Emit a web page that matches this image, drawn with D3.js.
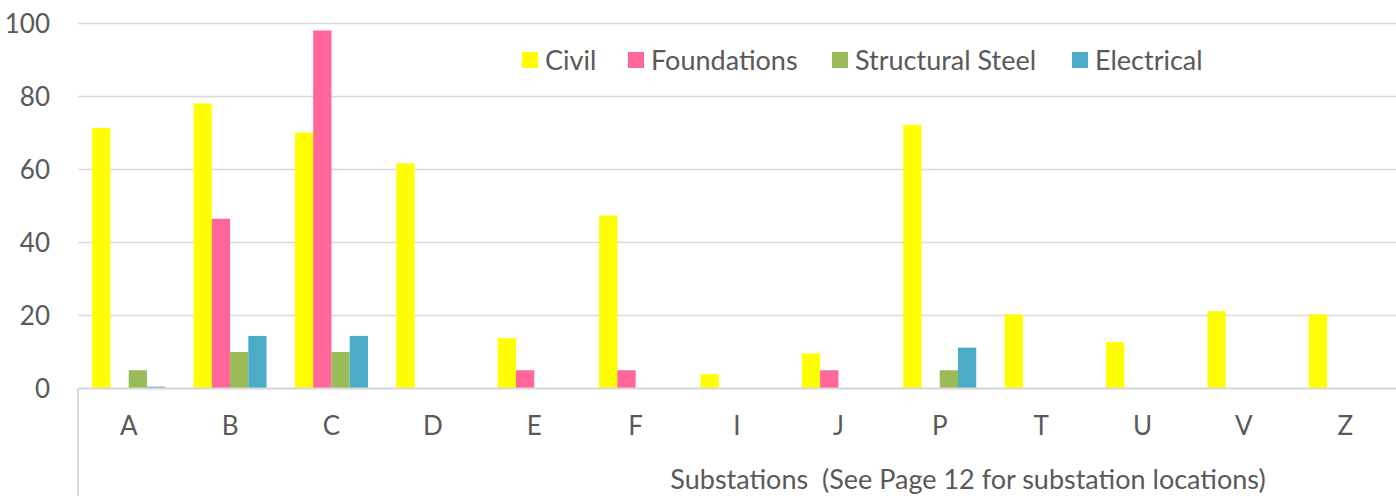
<!DOCTYPE html>
<html>
<head>
<meta charset="utf-8">
<script src="https://cdn.jsdelivr.net/npm/d3@7"></script>
<style>
  body { margin: 0; background: #fff; }
  svg { display: block; font-family: Lato, "Open Sans", sans-serif; }
</style>
</head>
<body>
<svg id="chart" width="1396" height="496"></svg>
<script>
// data
var categories = ["A", "B", "C", "D", "E", "F", "I", "J", "P", "T", "U", "V", "Z"];
var seriesNames = ["Civil", "Foundations", "Structural Steel", "Electrical"];
var civil = [71.4, 78.1, 70.1, 61.7, 13.8, 47.4, 3.9, 9.6, 72.2, 20.3, 12.7, 21.2, 20.3];
var foundations = [0, 46.5, 98.1, 0, 5, 5, 0, 5, 0, 0, 0, 0, 0];
var structuralSteel = [5, 10, 10, 0, 0, 0, 0, 0, 5, 0, 0, 0, 0];
var electrical = [0.5, 14.4, 14.4, 0, 0, 0, 0, 0, 11.2, 0, 0, 0, 0];
var yTicks = [0, 20, 40, 60, 80, 100];
var colors = ["#ffff00", "#ff6699", "#9bbb59", "#4bacc6"];

var allSeries = [civil, foundations, structuralSteel, electrical];

var svg = d3.select("#chart");
var plotLeft = 78, plotRight = 1396, plotTop = 23.5, plotBottom = 388.5;
var textColor = "#595959";
var gridColor = "#d9d9d9";

var y = d3.scaleLinear().domain([0, 100]).range([plotBottom, plotTop]);

var x0 = d3.scaleBand()
  .domain(categories)
  .range([plotLeft, plotRight])
  .paddingInner(0.28)
  .paddingOuter(0.14);

var x1 = d3.scaleBand()
  .domain(seriesNames)
  .range([0, x0.bandwidth()]);

// gridlines
svg.append("g")
  .selectAll("line")
  .data(yTicks)
  .join("line")
  .attr("x1", plotLeft)
  .attr("x2", plotRight)
  .attr("y1", d => y(d))
  .attr("y2", d => y(d))
  .attr("stroke", gridColor)
  .attr("stroke-width", 1.5);

// y tick labels
svg.append("g")
  .selectAll("text")
  .data(yTicks)
  .join("text")
  .attr("x", 50)
  .attr("y", d => y(d))
  .attr("dy", "0.36em")
  .attr("text-anchor", "end")
  .attr("fill", textColor)
  .style("font-size", "26px")
  .text(d => d);

// bars
var rows = categories.map(function (c, i) {
  return { cat: c, values: allSeries.map((s, j) => ({ name: seriesNames[j], value: s[i], color: colors[j] })) };
});

svg.append("g")
  .selectAll("g")
  .data(rows)
  .join("g")
  .attr("transform", d => "translate(" + x0(d.cat) + ",0)")
  .selectAll("rect")
  .data(d => d.values.filter(v => v.value > 0))
  .join("rect")
  .attr("x", d => x1(d.name))
  .attr("width", x1.bandwidth())
  .attr("y", d => y(d.value))
  .attr("height", d => y(0) - y(d.value))
  .attr("fill", d => d.color);

// category axis
svg.append("line")
  .attr("x1", plotLeft).attr("x2", plotRight)
  .attr("y1", y(0)).attr("y2", y(0))
  .attr("stroke", gridColor).attr("stroke-width", 2);

svg.append("line")
  .attr("x1", plotLeft).attr("x2", plotLeft)
  .attr("y1", y(0)).attr("y2", 496)
  .attr("stroke", gridColor).attr("stroke-width", 2);

svg.append("g")
  .selectAll("text")
  .data(categories)
  .join("text")
  .attr("x", d => x0(d) + x0.bandwidth() / 2)
  .attr("y", 435)
  .attr("text-anchor", "middle")
  .attr("fill", textColor)
  .style("font-size", "26px")
  .text(d => d);

svg.append("text")
  .attr("x", 968)
  .attr("y", 489)
  .attr("text-anchor", "middle")
  .attr("fill", textColor)
  .style("font-size", "27px")
  .style("white-space", "pre")
  .text("Substations  (See Page 12 for substation locations)");

// legend
var legendX = [522, 628, 832, 1072];
var legend = svg.append("g")
  .selectAll("g")
  .data(seriesNames)
  .join("g")
  .attr("transform", (d, i) => "translate(" + legendX[i] + ",60)");

legend.append("rect")
  .attr("x", 0).attr("y", -8)
  .attr("width", 16).attr("height", 16)
  .attr("fill", (d, i) => colors[i]);

legend.append("text")
  .attr("x", 23)
  .attr("dy", "0.36em")
  .attr("fill", textColor)
  .style("font-size", "27px")
  .text(d => d);
</script>
</body>
</html>
